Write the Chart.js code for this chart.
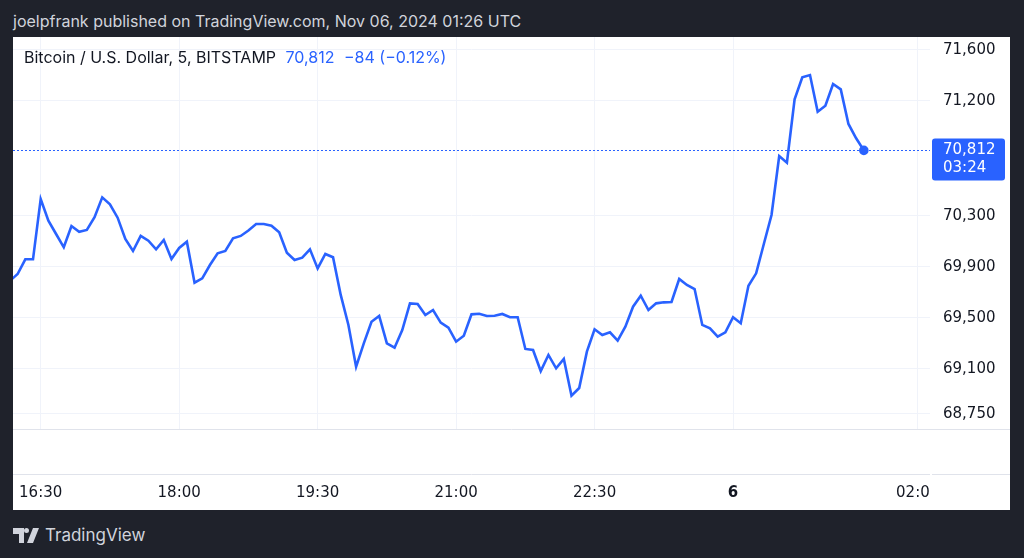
<!DOCTYPE html>
<html>
<head>
<meta charset="utf-8">
<script src="https://cdn.jsdelivr.net/npm/chart.js@4.4.0/dist/chart.umd.min.js"></script>
<style>
  html, body { margin: 0; padding: 0; }
  body {
    width: 1024px; height: 558px; background: #1f222b;
    position: relative; overflow: hidden;
    font-family: Inter, "Liberation Sans", sans-serif;
  }
  #top { position: absolute; left: 13px; top: 11px; color: #d1d4dc; font-size: 16px; line-height: 20px; white-space: nowrap; }
  #panel { position: absolute; left: 13px; top: 37px; width: 997px; height: 473px; background: #fff; }
  #legend { position: absolute; left: 11px; top: 10px; font-size: 16px; line-height: 20px; color: #131722; white-space: nowrap; }
  #legend .v { color: #2962ff; margin-left: 5px; }
  #brand { position: absolute; left: 13px; top: 525px; color: #d1d4dc; font-size: 17px; line-height: 20px; display: flex; align-items: center; }
  #brand svg { margin-right: 6px; }
</style>
</head>
<body>
<div id="top">joelpfrank published on TradingView.com, Nov 06, 2024 01:26 UTC</div>
<div id="panel">
  <canvas id="btc" width="997" height="473"></canvas>
  <div id="legend">Bitcoin / U.S. Dollar, 5, BITSTAMP <span class="v">70,812</span> <span class="v">−84 (−0.12%)</span></div>
</div>
<div id="brand">
  <svg width="26" height="15" viewBox="0 0 26 15"><path d="M0 0h11v15h-5v-9h-6z M13.5 0a2.5 2.5 0 1 1 0 5a2.5 2.5 0 1 1 0-5z M20 0h6l-6 15h-6z" fill="#d1d4dc"/></svg>
  TradingView
</div>
<script>
// BTC/USD, Bitstamp, 5 minute closes from 16:10 (Nov 5) to 01:25 (Nov 6)
var startTime = "16:10";
var barMinutes = 5;
var prices = [
  69790, 69844, 69959, 69959, 70431, 70261, 70157, 70053, 70220, 70175,
  70189, 70288, 70444, 70390, 70285, 70118, 70024, 70142, 70105, 70037,
  70110, 69961, 70048, 70097, 69776, 69810, 69914, 70006, 70024, 70123,
  70142, 70185, 70235, 70235, 70222, 70170, 70011, 69954, 69972, 70037,
  69888, 70001, 69975, 69680, 69445, 69118, 69301, 69470, 69515, 69301,
  69267, 69405, 69614, 69609, 69523, 69562, 69463, 69423, 69314, 69361,
  69528, 69533, 69515, 69517, 69531, 69505, 69505, 69257, 69249, 69084,
  69210, 69105, 69178, 68891, 68951, 69236, 69411, 69366, 69387, 69322,
  69431, 69588, 69674, 69562, 69614, 69622, 69625, 69805, 69758, 69726,
  69445, 69419, 69353, 69387, 69505, 69458, 69752, 69849, 70079, 70306,
  70768, 70716, 71212, 71384, 71402, 71115, 71162, 71332, 71290, 71019,
  70907, 70812
];
var timeTickAt = ["16:30", "18:00", "19:30", "21:00", "22:30", "00:00", "02:00"];
var timeTickLabels = ["16:30", "18:00", "19:30", "21:00", "22:30", "6", "02:00"];
var priceTicks = [68750, 69100, 69500, 69900, 70300, 71200, 71600];
var countdown = "03:24";

var AXIS_FONT = "'DejaVu Sans', Inter, sans-serif";
var BLUE = "#2962ff";

// minutes after 16:30, wrapping past midnight
function toMin(hhmm) {
  var p = hhmm.split(":");
  var m = (+p[0]) * 60 + (+p[1]) - (16 * 60 + 30);
  if (m < -120) m += 1440;
  return m;
}

var t0 = toMin(startTime);
var points = prices.map(function (p, i) { return { x: t0 + i * barMinutes, y: p }; });
var lastIdx = prices.length - 1;
var lastPrice = prices[lastIdx];

var fmt = function (v) { return v.toLocaleString("en-US"); };
var noPad = function (s) { s.paddingLeft = s.paddingRight = s.paddingTop = s.paddingBottom = 0; };

var lastPriceMarks = {
  id: "lastPriceMarks",
  beforeDatasetsDraw: function (chart) {
    var ctx = chart.ctx, area = chart.chartArea;
    var py = Math.round(chart.scales.y.getPixelForValue(lastPrice)) + 0.5;
    ctx.save();
    ctx.strokeStyle = BLUE;
    ctx.lineWidth = 1;
    ctx.setLineDash([2, 2]);
    ctx.beginPath();
    ctx.moveTo(area.left, py);
    ctx.lineTo(area.right, py);
    ctx.stroke();
    ctx.restore();
  },
  afterDraw: function (chart) {
    var ctx = chart.ctx, area = chart.chartArea;
    var py = chart.scales.y.getPixelForValue(lastPrice);
    ctx.save();
    // time axis label is clipped at the price column
    ctx.fillStyle = "#fff";
    ctx.fillRect(area.right, area.bottom + 47, chart.width - area.right, chart.height - area.bottom - 48);
    // pane separators
    ctx.strokeStyle = "#e0e3eb";
    ctx.lineWidth = 1;
    ctx.beginPath();
    ctx.moveTo(0, area.bottom + 0.5); ctx.lineTo(chart.width, area.bottom + 0.5);
    ctx.moveTo(0, area.bottom + 45.5); ctx.lineTo(area.right, area.bottom + 45.5);
    ctx.moveTo(area.right + 2, area.bottom + 45.5); ctx.lineTo(chart.width, area.bottom + 45.5);
    ctx.stroke();
    // last price tag
    ctx.fillStyle = BLUE;
    ctx.beginPath();
    ctx.roundRect(area.right + 2, py - 12, 73, 42, 3);
    ctx.fill();
    ctx.fillStyle = "#fff";
    ctx.font = "15px " + AXIS_FONT;
    ctx.textBaseline = "middle";
    ctx.textAlign = "left";
    ctx.fillText(fmt(lastPrice), area.right + 13, py);
    ctx.fillText(countdown, area.right + 13, py + 18);
    ctx.restore();
  }
};

new Chart(document.getElementById("btc"), {
  type: "line",
  data: {
    datasets: [{
      data: points,
      borderColor: BLUE,
      backgroundColor: BLUE,
      borderWidth: 2.6,
      tension: 0,
      pointRadius: function (c) { return c.dataIndex === lastIdx ? 3.5 : 0; },
      pointHoverRadius: 0
    }]
  },
  options: {
    responsive: false,
    animation: false,
    devicePixelRatio: 1,
    layout: { padding: 0, autoPadding: false },
    plugins: { legend: { display: false }, tooltip: { enabled: false } },
    scales: {
      x: {
        type: "linear",
        min: -18,
        max: 578,
        afterFit: function (s) { s.height = 81; noPad(s); },
        afterBuildTicks: function (s) {
          s.ticks = timeTickAt.map(function (t) { return { value: toMin(t) }; });
        },
        grid: { color: "#f0f3fa", drawTicks: false },
        border: { display: false },
        ticks: {
          autoSkip: false,
          maxRotation: 0,
          padding: 55,
          color: "#131722",
          font: function (c) {
            var bold = c.tick && c.tick.value === toMin("00:00");
            return { family: AXIS_FONT, size: 15, weight: bold ? "bold" : "normal" };
          },
          callback: function (v) { return timeTickLabels[timeTickAt.map(toMin).indexOf(v)]; }
        }
      },
      y: {
        position: "right",
        min: 68630,
        max: 71700,
        afterFit: function (s) { s.width = 80; noPad(s); },
        afterBuildTicks: function (s) {
          s.ticks = priceTicks.map(function (v) { return { value: v }; });
        },
        grid: { color: "#f0f3fa", drawTicks: false },
        border: { display: false },
        ticks: {
          padding: 13,
          color: "#131722",
          font: { family: AXIS_FONT, size: 15 },
          callback: function (v) { return fmt(v); }
        }
      }
    }
  },
  plugins: [lastPriceMarks]
});
</script>
</body>
</html>
